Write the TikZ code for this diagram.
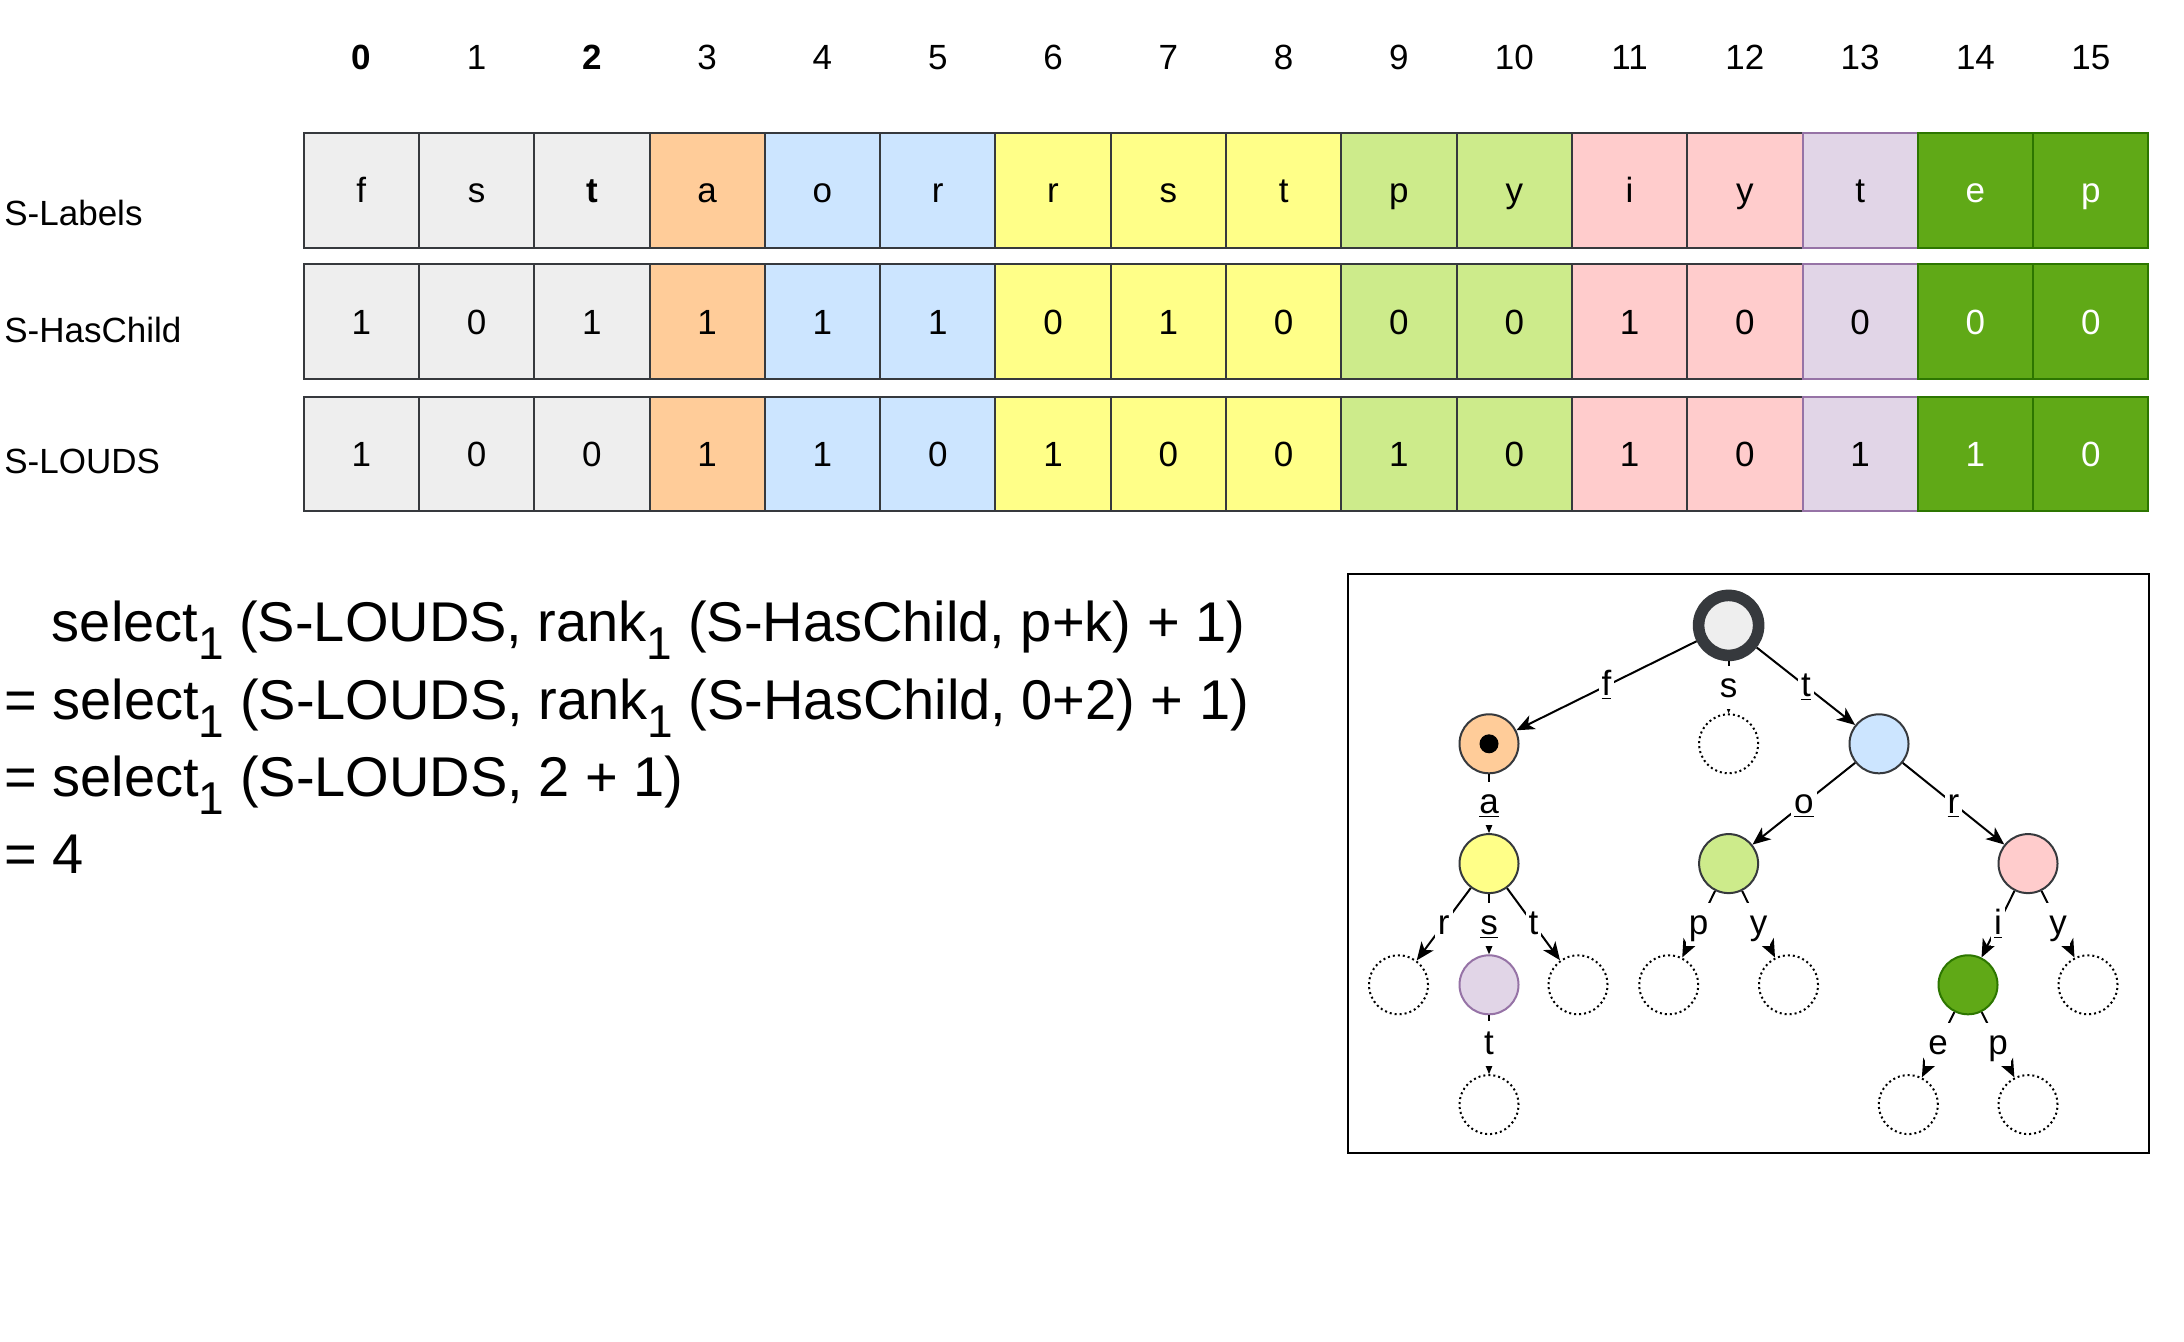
\documentclass[tikz,border=0pt]{standalone}
\usepackage{fontspec}
\setmainfont{Liberation Sans}
\usetikzlibrary{arrows.meta}
\definecolor{strk}{HTML}{36393D}
\definecolor{fgray}{HTML}{EEEEEE}
\definecolor{forange}{HTML}{FFCC99}
\definecolor{fblue}{HTML}{CCE5FF}
\definecolor{fyellow}{HTML}{FFFF88}
\definecolor{flgreen}{HTML}{CDEB8B}
\definecolor{fpink}{HTML}{FFCCCC}
\definecolor{fpurple}{HTML}{E1D5E7}
\definecolor{spurple}{HTML}{9673A6}
\definecolor{fdgreen}{HTML}{60A917}
\definecolor{sdgreen}{HTML}{2D7600}
\newcommand\subone{\raisebox{-9pt}{\fontsize{23}{23}\selectfont 1}}
\begin{document}
\begin{tikzpicture}[x=0.5pt,y=-0.5pt,
  cellbox/.style={rectangle, minimum width=57.65pt, minimum height=57.4pt, inner sep=0pt, line width=1pt, font=\fontsize{17.5}{21}\selectfont, text height=12.5pt, text depth=0pt},
  idx/.style={inner sep=0pt, font=\fontsize{17.5}{21}\selectfont, text height=12.5pt, text depth=0pt},
  rowlab/.style={inner sep=0pt, anchor=west, font=\fontsize{17.5}{21}\selectfont},
  ftext/.style={inner sep=0pt, anchor=base west, font=\fontsize{28}{34}\selectfont},
  tn/.style={circle, minimum size=29.5pt, inner sep=0pt, line width=1pt, draw=strk},
  dn/.style={circle, minimum size=29.5pt, inner sep=0pt, line width=1pt, draw=black, dash pattern=on 1pt off 1.5pt, fill=white},
  treearrow/.style={draw=black, line width=1pt, -{Stealth[length=9pt,width=7.5pt,inset=2.5pt]}},
  elab/.style={fill=white, inner xsep=1.5pt, inner ysep=1pt, text height=14.8pt, text depth=4.8pt, font=\fontsize{17.5}{21}\selectfont, midway}
]
\useasboundingbox (0,0) rectangle (2184,1342);
\fill[white] (0,0) rectangle (2184,1342);

% index row
\foreach \i/\n in {0/{\textbf{0}},1/1,2/{\textbf{2}},3/3,4/4,5/5,6/6,7/7,8/8,9/9,10/10,11/11,12/12,13/13,14/14,15/15}
  \node[idx] (I\i) at ({361.25+115.3*\i},57) {\n};

% row labels
\node[rowlab] (RL) at (4,213) {S-Labels};
\node[rowlab] (RH) at (4,330) {S-HasChild};
\node[rowlab] (RD) at (4,461) {S-LOUDS};

% cells
\foreach \i/\f/\s/\t/\a/\b/\d in {
  0/fgray/strk/black/f/1/1,
  1/fgray/strk/black/s/0/0,
  2/fgray/strk/black/{\textbf{t}}/1/0,
  3/forange/strk/black/a/1/1,
  4/fblue/strk/black/o/1/1,
  5/fblue/strk/black/r/1/0,
  6/fyellow/strk/black/r/0/1,
  7/fyellow/strk/black/s/1/0,
  8/fyellow/strk/black/t/0/0,
  9/flgreen/strk/black/p/0/1,
  10/flgreen/strk/black/y/0/0,
  11/fpink/strk/black/i/1/1,
  12/fpink/strk/black/y/0/0,
  13/fpurple/spurple/black/t/0/1,
  14/fdgreen/sdgreen/white/e/0/1,
  15/fdgreen/sdgreen/white/p/0/0}{
  \node[cellbox, fill=\f, draw=\s, text=\t] (L\i) at ({361.25+115.3*\i},190.2) {\a};
  \node[cellbox, fill=\f, draw=\s, text=\t] (H\i) at ({361.25+115.3*\i},321.8) {\b};
  \node[cellbox, fill=\f, draw=\s, text=\t] (D\i) at ({361.25+115.3*\i},454) {\d};
}

% formula
\node[ftext] (F1) at (51.5,641) {select\subone{} (S-LOUDS, rank\subone{} (S-HasChild, p+k) + 1)};
\node[ftext] (F2) at (4,719) {= select\subone{} (S-LOUDS, rank\subone{} (S-HasChild, 0+2) + 1)};
\node[ftext] (F3) at (4,796) {= select\subone{} (S-LOUDS, 2 + 1)};
\node[ftext] (F4) at (4,873) {= 4};

% tree box
\node[draw=black, line width=1pt, minimum width=400.35pt, minimum height=289.7pt, inner sep=0pt] (treebox) at (1748.65,863.6) {};

% tree nodes
\node[circle, inner sep=0pt, minimum size=30pt, line width=5.8pt, fill=fgray, draw=strk] (root) at (1728.6,625.4) {};
\node[tn, fill=forange] (n1) at (1489,743.8) {};
\node[dn] (ds) at (1728.6,743.8) {};
\node[tn, fill=fblue] (n2) at (1879,743.8) {};
\node[tn, fill=fyellow] (n3) at (1489,863.6) {};
\node[tn, fill=flgreen] (n4) at (1728.6,863.6) {};
\node[tn, fill=fpink] (n5) at (2028,863.6) {};
\node[dn] (dr) at (1398.5,984.8) {};
\node[tn, fill=fpurple, draw=spurple] (n6) at (1489,984.8) {};
\node[dn] (dt) at (1578,984.8) {};
\node[dn] (dp) at (1668.7,984.8) {};
\node[dn] (dy) at (1788.5,984.8) {};
\node[tn, fill=fdgreen, draw=sdgreen] (n7) at (1968,984.8) {};
\node[dn] (dy2) at (2088,984.8) {};
\node[dn] (dt2) at (1489,1104.6) {};
\node[dn] (de) at (1908.3,1104.6) {};
\node[dn] (dp2) at (2028,1104.6) {};
\node[circle, fill=black, minimum size=9.5pt, inner sep=0pt] (dot) at (n1) {};

% tree edges
\draw[treearrow] (root) -- node[elab] {\underline{f}} (n1);
\draw[treearrow] (root) -- node[elab] {s} (ds);
\draw[treearrow] (root) -- node[elab] {\underline{t}} (n2);
\draw[treearrow] (n1) -- node[elab] {\underline{a}} (n3);
\draw[treearrow] (n3) -- node[elab] {r} (dr);
\draw[treearrow] (n3) -- node[elab] {\underline{s}} (n6);
\draw[treearrow] (n3) -- node[elab] {t} (dt);
\draw[treearrow] (n2) -- node[elab] {\underline{o}} (n4);
\draw[treearrow] (n2) -- node[elab] {\underline{r}} (n5);
\draw[treearrow] (n4) -- node[elab] {p} (dp);
\draw[treearrow] (n4) -- node[elab] {y} (dy);
\draw[treearrow] (n5) -- node[elab] {\underline{i}} (n7);
\draw[treearrow] (n5) -- node[elab] {y} (dy2);
\draw[treearrow, dashed] (n6) -- node[elab] {t} (dt2);
\draw[treearrow] (n7) -- node[elab] {e} (de);
\draw[treearrow] (n7) -- node[elab] {p} (dp2);
\end{tikzpicture}
\end{document}
